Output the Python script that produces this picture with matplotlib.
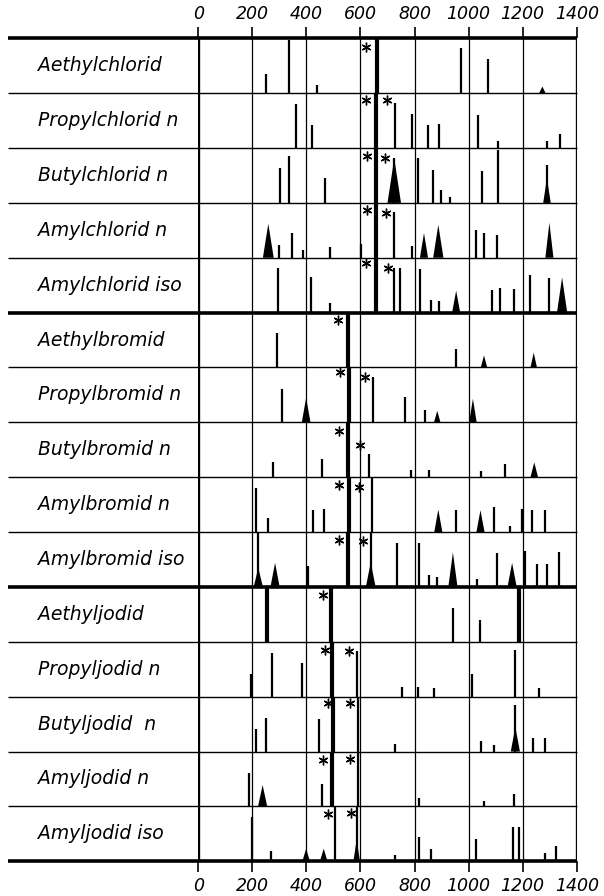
import matplotlib
matplotlib.use("Agg")
import matplotlib.pyplot as plt

# Raman spectra of alkyl halides (wavenumber cm^-1, relative intensity)
names = ["Aethylchlorid", "Propylchlorid n", "Butylchlorid n", "Amylchlorid n",
         "Amylchlorid iso", "Aethylbromid", "Propylbromid n", "Butylbromid n",
         "Amylbromid n", "Amylbromid iso", "Aethyljodid", "Propyljodid n",
         "Butyljodid  n", "Amyljodid n", "Amyljodid iso"]

# sharp lines: (wavenumber, height as fraction of the row)
sharp = [
    [(251, .35), (337, .97), (441, .15), (972, .83), (1072, .63)],
    [(363, .80), (420, .42), (726, .82), (791, .62), (851, .42), (892, .44),
     (1033, .61), (1108, .13), (1290, .12), (1339, .25)],
    [(301, .63), (337, .86), (469, .46), (725, .81), (814, .81), (868, .60),
     (899, .24), (930, .11), (1049, .58), (1108, .97), (1290, .69)],
    [(299, .23), (347, .46), (389, .15), (488, .20), (601, .26), (723, .83),
     (790, .22), (1028, .50), (1058, .46), (1106, .42)],
    [(295, .81), (417, .65), (488, .17), (723, .82), (747, .82), (822, .80),
     (860, .23), (889, .21), (1085, .42), (1117, .44), (1167, .43),
     (1226, .68), (1298, .64)],
    [(291, .62), (954, .33)],
    [(309, .61), (648, .82), (763, .46), (837, .23)],
    [(275, .27), (457, .33), (633, .43), (786, .14), (852, .13), (1045, .11),
     (1133, .24)],
    [(214, .81), (257, .25), (426, .41), (465, .43), (641, .99), (953, .41),
     (1094, .46), (1152, .12), (1198, .43), (1235, .41), (1284, .40)],
    [(222, 1.0), (405, .39), (638, 1.0), (736, .81), (818, .81), (855, .21),
     (884, .18), (1031, .14), (1105, .61), (1210, .65), (1253, .42),
     (1290, .42), (1333, .63)],
    [(942, .61), (1043, .39)],
    [(195, .42), (274, .79), (383, .62), (586, .84), (753, .18), (812, .18),
     (873, .16), (1012, .41), (1173, .85), (1260, .15)],
    [(212, .42), (249, .62), (447, .59), (590, 1.0), (728, .14), (1047, .20),
     (1093, .12), (1173, .84), (1237, .24), (1284, .24)],
    [(188, .61), (457, .41), (590, 1.0), (817, .15), (1056, .10), (1167, .23)],
    [(200, .80), (268, .19), (506, 1.0), (586, 1.0), (726, .12), (817, .45),
     (862, .23), (1027, .41), (1164, .63), (1185, .63), (1284, .15),
     (1325, .27)],
]

# broad lines: (wavenumber, height, half width of base in cm^-1)
broad = [
    [(1273, .12, 12)],
    [],
    [(725, .81, 25), (1290, .45, 14)],
    [(259, .62, 20), (835, .45, 15), (888, .60, 19), (1299, .64, 15)],
    [(954, .40, 15), (1346, .64, 19)],
    [(1057, .22, 12), (1241, .27, 12)],
    [(399, .45, 16), (884, .21, 12), (1016, .43, 14)],
    [(1243, .27, 14)],
    [(888, .41, 15), (1044, .40, 15)],
    [(222, .35, 17), (284, .44, 17), (638, .45, 18), (942, .63, 17),
     (1161, .44, 17)],
    [],
    [],
    [(1173, .45, 17)],
    [(238, .39, 17)],
    [(399, .23, 14), (464, .23, 14), (586, .40, 12)],
]

# very strong lines drawn through the whole row
strong = [[662], [656], [657], [656], [656],
          [554], [558], [554], [556], [553],
          [253, 490, 1188], [494], [500], [494], []]

# asterisks: (wavenumber, depth below row top)
stars = [
    [(620, .16)], [(620, .12), (698, .13)], [(623, .15), (692, .19)],
    [(625, .13), (694, .19)], [(622, .10), (700, .19)],
    [(516, .13)], [(525, .08), (617, .18)], [(521, .15), (598, .41)],
    [(521, .14), (596, .17)], [(519, .15), (609, .16)],
    [(461, .15)], [(467, .14), (556, .16)], [(481, .12), (562, .12)],
    [(460, .16), (562, .13)], [(481, .14), (564, .12)],
]

xticks = [0, 200, 400, 600, 800, 1000, 1200, 1400]

fig = plt.figure(figsize=(6.04, 8.96), dpi=100)
ax = fig.add_axes([198.3 / 604, 1 - 861.3 / 896, 378.4 / 604, 823.0 / 896])
n = len(names)
ax.set_xlim(0, 1400)
ax.set_ylim(n, 0)
for s in ax.spines.values():
    s.set_visible(False)

x_left = -704  # left end of the row rules (outside the axes)

# vertical grid
for x in xticks:
    lw = 2.4 if x in (0, 1400) else 0.9
    ax.vlines(x, 0, n, color="black", lw=lw, zorder=2)

# horizontal rules
for i in range(n + 1):
    lw = 2.6 if i % 5 == 0 else 1.0
    ax.hlines(i, x_left, 1400, color="black", lw=lw, clip_on=False, zorder=3)

for i in range(n):
    base = i + 1
    ax.text(x_left + 112, i + 0.5, names[i], fontsize=13.5, style="italic",
            ha="left", va="center")
    for x, h in sharp[i]:
        ax.vlines(x, base - h, base, color="black", lw=1.6, zorder=4)
    for x, h, w in broad[i]:
        ax.fill([x - w, x, x + w], [base, base - h, base], color="black",
                lw=0, zorder=4)
    for x in strong[i]:
        ax.vlines(x, i, base, color="black", lw=3.0, zorder=4)
    for x, d in stars[i]:
        ax.plot(x, i + d, marker=(6, 2, 0), ms=7, mew=1.0, color="black",
                zorder=5)

ax.set_yticks([])
ax.set_xticks(xticks)
ax.xaxis.set_ticks_position("both")
ax.tick_params(axis="x", which="both", direction="out", length=8, width=1.2,
               labeltop=True, labelbottom=True, labelsize=12.5, pad=3)
for t in ax.xaxis.get_major_ticks():
    t.label1.set_style("italic")
    t.label2.set_style("italic")

fig.savefig("out.png", dpi=100)
